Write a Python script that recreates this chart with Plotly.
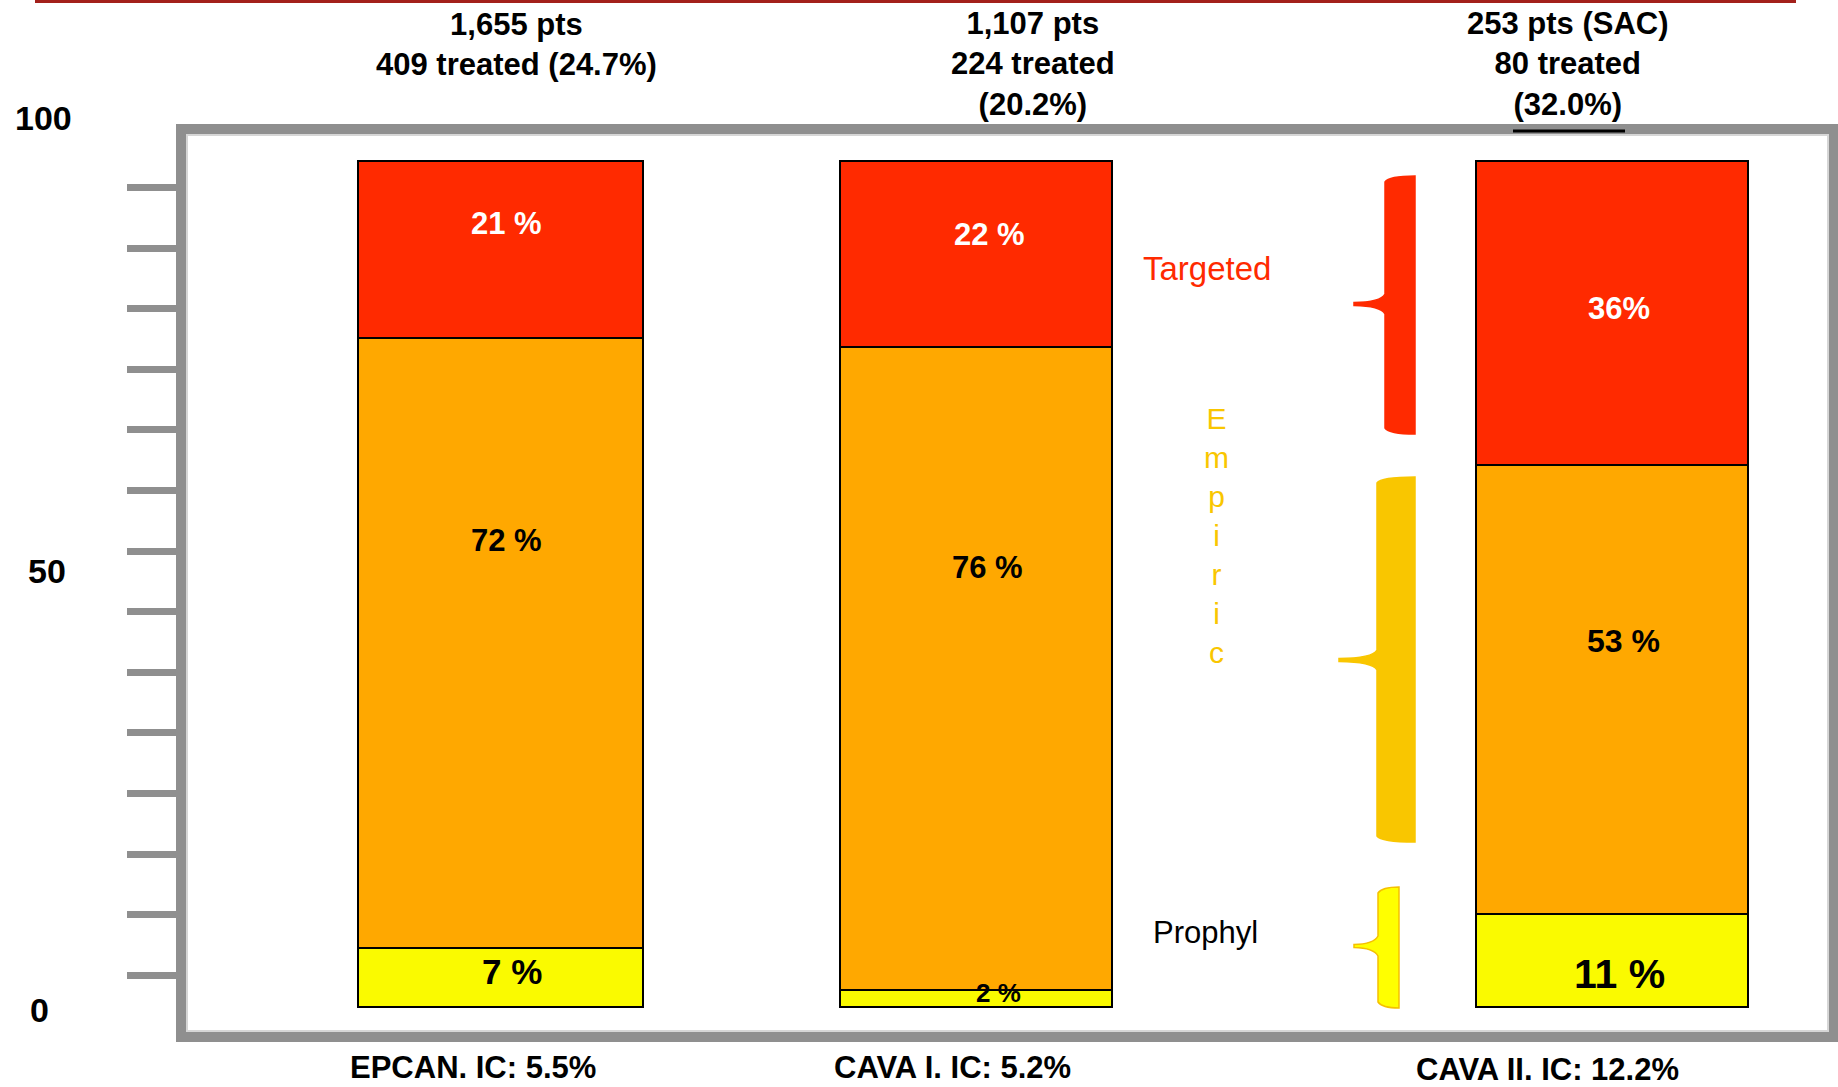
import plotly.graph_objects as go

# ---- data -------------------------------------------------------------
studies = ["EPCAN", "CAVA I", "CAVA II"]
ic_rate = [5.5, 5.2, 12.2]            # invasive candidiasis rate (%)
patients = ["1,655", "1,107", "253"]
patient_note = ["", "", " (SAC)"]
treated = [409, 224, 80]
treated_pct = [24.7, 20.2, 32.0]

prophyl = [7, 2, 11]
empiric = [72, 76, 53]
targeted = [21, 22, 36]

# ---- canvas helpers ----------------------------------------------------
W, H = 1838, 1087


def px(x):
    return x / W


def py(y):
    return 1 - y / H


RED = "#FF2A00"
ORANGE = "#FFA800"
YELLOW = "#FAFA00"
GOLD = "#F9C600"
FRAME = "#8f8f8f"
BOLD = "Liberation Sans, Arial, sans-serif"
NARROW = "Liberation Sans Narrow, Arial Narrow, Liberation Sans, sans-serif"

# per-bar geometry on the category axis
bar_width = [0.514, 0.489, 0.489]
bar_offset = [-0.256, -0.388, -0.245]

fig = go.Figure()
for name, vals, col in [("Prophyl", prophyl, YELLOW),
                        ("Empiric", empiric, ORANGE),
                        ("Targeted", targeted, RED)]:
    fig.add_trace(go.Bar(
        x=studies, y=vals, name=name,
        width=bar_width, offset=bar_offset,
        marker=dict(color=col, line=dict(color="black", width=2)),
        hoverinfo="name+y", showlegend=False,
    ))

# ---- segment labels ----------------------------------------------------
# (x centre px, y centre px, font size, colour) for each segment label
seg_style = {
    "targeted": [(506, 223, 31, "white"), (989, 234, 31, "white"), (1619, 308, 31, "white")],
    "empiric": [(506, 540, 31, "black"), (987, 567, 31, "black"), (1623, 641, 32, "black")],
    "prophyl": [(512, 971, 35, "black"), (998, 993, 26, "black"), (1619, 974, 41, "black")],
}
targeted_fmt = ["{} %", "{} %", "{}%"]

annotations = []


def label(text, x, y, size, color, family=BOLD, bold=True, **kw):
    t = f"<b>{text}</b>" if bold else text
    annotations.append(dict(
        text=t, x=px(x), y=py(y), xref="paper", yref="paper",
        xanchor="center", yanchor="middle", showarrow=False,
        font=dict(family=family, size=size, color=color), **kw))


for i in range(len(studies)):
    x, y, s, c = seg_style["targeted"][i]
    label(targeted_fmt[i].format(targeted[i]), x, y, s, c)
    x, y, s, c = seg_style["empiric"][i]
    label(f"{empiric[i]} %", x, y, s, c)
    x, y, s, c = seg_style["prophyl"][i]
    label(f"{prophyl[i]} %", x, y, s, c)

# ---- headers above each bar ---------------------------------------------
label(f"{patients[0]} pts{patient_note[0]}<br>{treated[0]} treated ({treated_pct[0]}%)",
      516, 45, 31, "black")
label(f"{patients[1]} pts{patient_note[1]}<br>{treated[1]} treated<br>({treated_pct[1]}%)",
      1033, 64, 31, "black")
label(f"{patients[2]} pts{patient_note[2]}<br>{treated[2]} treated<br>({treated_pct[2]:.1f}%)",
      1568, 64, 31, "black")

# ---- study captions below the frame -------------------------------------
for name, rate, (x, y) in zip(studies, ic_rate, [(473, 1067), (952, 1067), (1547, 1069)]):
    label(f"{name}. IC: {rate}%", x, y, 31, "black")

# ---- scale labels ----------------------------------------------------------
for txt, x, y in [("100", 43, 118), ("50", 47, 571), ("0", 39, 1010)]:
    label(txt, x, y, 34, "black")

# ---- category legend beside the braces ------------------------------------
label("Targeted", 1207, 268, 33, RED, family=NARROW, bold=False)
label("<br>".join("Empiric"), 1216, 535, 30, GOLD, family=NARROW, bold=False)
label("Prophyl", 1205, 932, 31, "black", family=NARROW, bold=False)

# ---- shapes ------------------------------------------------------------------
shapes = []

# dark red rule along the top
shapes.append(dict(type="rect", xref="paper", yref="paper",
                   x0=px(35), x1=px(1796), y0=py(0), y1=py(3),
                   fillcolor="#A3201B", line=dict(width=0), layer="below"))

# grey frame with a light inner edge
shapes.append(dict(type="rect", xref="paper", yref="paper",
                   x0=px(181), x1=px(1834), y0=py(129), y1=py(1037),
                   fillcolor="white", line=dict(color=FRAME, width=10), layer="below"))
shapes.append(dict(type="rect", xref="paper", yref="paper",
                   x0=px(187), x1=px(1828), y0=py(135), y1=py(1031),
                   line=dict(color="#d6d6d6", width=2), layer="below"))

# short black rule under the third header
shapes.append(dict(type="line", xref="paper", yref="paper",
                   x0=px(1513), x1=px(1625), y0=py(131), y1=py(131),
                   line=dict(color="black", width=3)))


def brace(xl, xr, xt, yt, yb, ym, fill, edge):
    """Left-pointing curly brace: straight right side, spike at ym."""
    p = lambda x, y: f"{px(x):.5f},{py(y):.5f}"
    path = (f"M {p(xr, yt)} L {p(xr, yb)} "
            f"Q {p(xl + 4, yb)} {p(xl, yb - 6)} "
            f"L {p(xl, ym + 10)} Q {p(xl - 4, ym + 2)} {p(xt, ym + 1.5)} "
            f"L {p(xt, ym - 1.5)} Q {p(xl - 4, ym - 2)} {p(xl, ym - 10)} "
            f"L {p(xl, yt + 6)} Q {p(xl + 4, yt)} {p(xr, yt)} Z")
    shapes.append(dict(type="path", xref="paper", yref="paper", path=path,
                       fillcolor=fill, line=dict(color=edge, width=1.5)))


brace(1385, 1415, 1354, 176, 434, 304, RED, RED)
brace(1377, 1415, 1339, 477, 842, 660, GOLD, GOLD)
brace(1378, 1399, 1354, 887, 1008, 946, "#FFFF00", "#F5C000")

fig.update_layout(
    width=W, height=H, autosize=False,
    margin=dict(l=0, r=0, t=0, b=0, pad=0),
    paper_bgcolor="white", plot_bgcolor="rgba(0,0,0,0)",
    barmode="stack",
    xaxis=dict(type="category", range=[-0.8993, 2.4065], visible=False,
               domain=[0, 1], fixedrange=True),
    yaxis=dict(range=[-9.452, 118.97], domain=[0, 1], anchor="free",
               position=px(178), side="left",
               tickmode="array", tickvals=[3.75 + 7.16 * k for k in range(14)],
               ticks="outside", ticklen=51, tickwidth=7, tickcolor=FRAME,
               showticklabels=False, showgrid=False, zeroline=False,
               showline=False, fixedrange=True),
    annotations=annotations,
    shapes=shapes,
    showlegend=False,
)

fig.write_html("out.html")
